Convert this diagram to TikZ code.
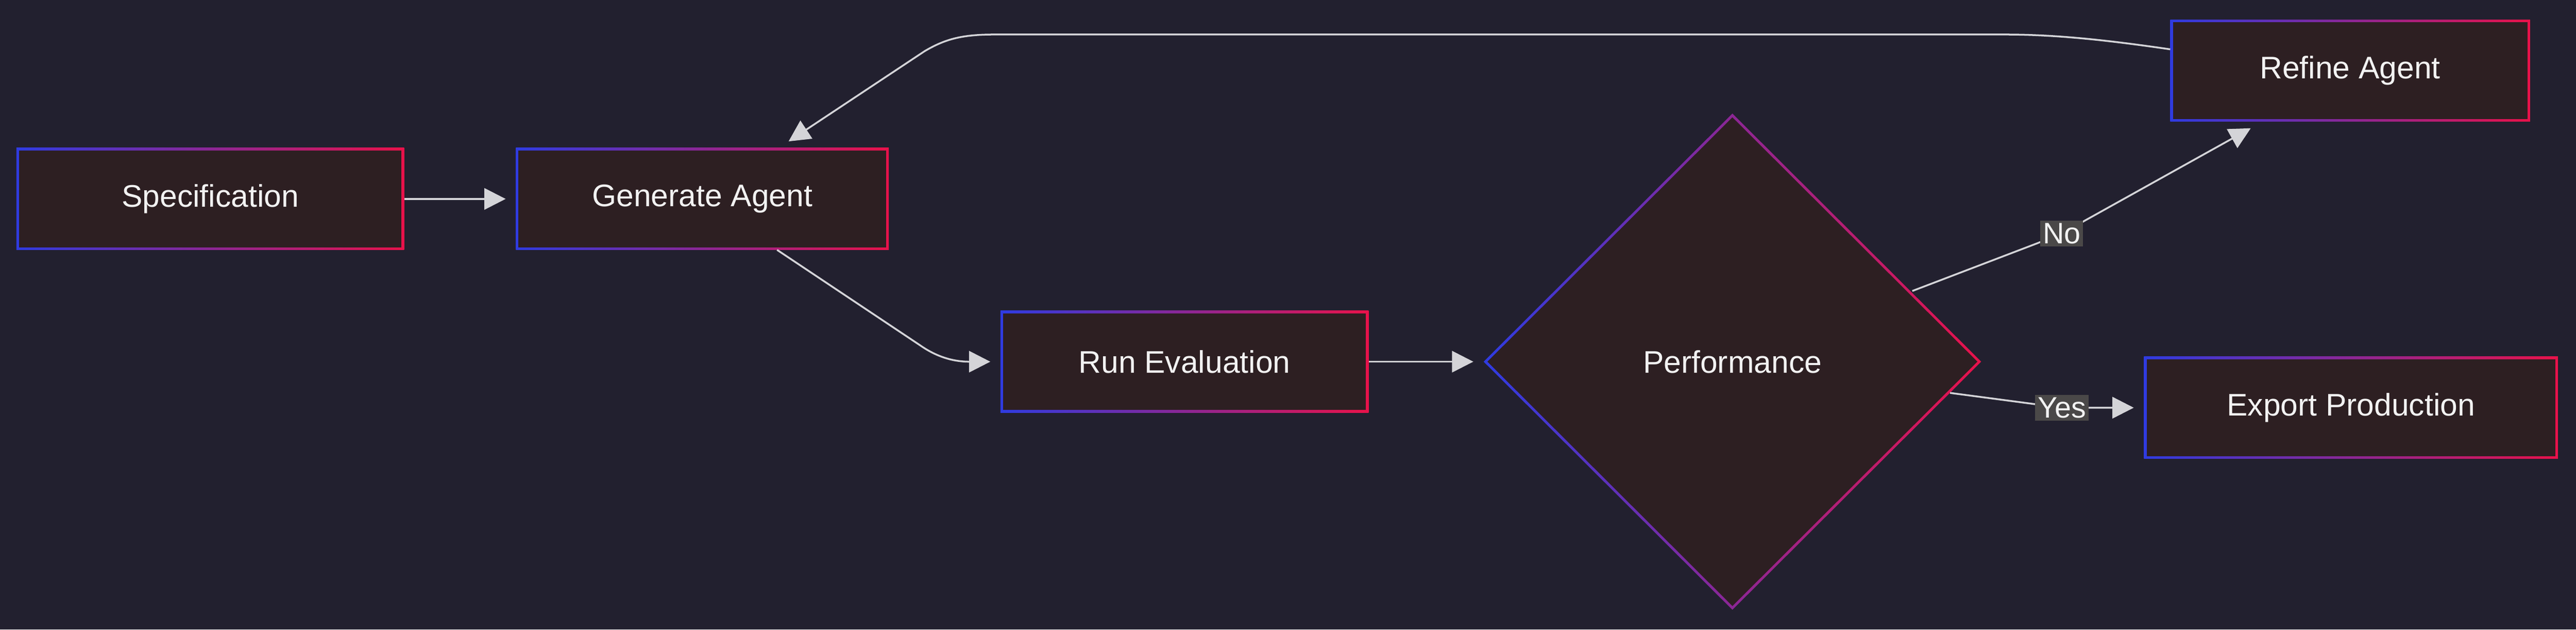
\documentclass[tikz,border=0pt]{standalone}
\usepackage{fontspec}
\setmainfont{Liberation Sans}
\usetikzlibrary{shapes.geometric,arrows.meta}
\definecolor{bg}{HTML}{22202F}
\definecolor{nf}{HTML}{2D1F22}
\definecolor{bl}{HTML}{2F3BE0}
\definecolor{rd}{HTML}{E8124A}
\definecolor{ln}{HTML}{D4D4D8}
\definecolor{lb}{HTML}{4A4848}
\begin{document}
\begin{tikzpicture}[x=1pt,y=-1pt,
  txt/.style={text=white!90!gray,font=\fontsize{19}{22}\selectfont},
  box/.style={txt,rectangle,inner sep=0pt,
    path picture={\shade[left color=bl,right color=rd] (path picture bounding box.south west) rectangle (path picture bounding box.north east);
      \fill[nf] ([shift={(1.6pt,-1.6pt)}]path picture bounding box.north west) rectangle ([shift={(-1.6pt,1.6pt)}]path picture bounding box.south east);}},
  dia/.style={txt,diamond,inner sep=0pt,minimum width=303pt,minimum height=302pt,
    path picture={\shade[left color=bl,right color=rd] (path picture bounding box.south west) rectangle (path picture bounding box.north east);
      \fill[nf] ([yshift=-2.3pt]path picture bounding box.north) -- ([xshift=-2.3pt]path picture bounding box.east) -- ([yshift=2.3pt]path picture bounding box.south) -- ([xshift=2.3pt]path picture bounding box.west) -- cycle;}},
  ar/.style={draw=ln,line width=1.1pt,-{Triangle[length=13pt,width=13pt]}},
  lab/.style={fill=lb,text=white!90!gray,inner sep=1.5pt,font=\fontsize{18}{21}\selectfont}]
\fill[bg] (0,0) rectangle (1568,383);
\node[box,minimum width=236pt,minimum height=62pt] (spec) at (128,121) {Specification};
\node[box,minimum width=227pt,minimum height=62pt] (gen) at (427.5,121) {Generate Agent};
\node[box,minimum width=224pt,minimum height=62pt] (run) at (721,220) {Run Evaluation};
\node[dia] (perf) at (1054.5,220) {Performance};
\node[box,minimum width=219pt,minimum height=62pt] (ref) at (1430.5,43) {Refine Agent};
\node[box,minimum width=252pt,minimum height=62pt] (exp) at (1431,248) {Export Production};
\coordinate (g1) at (473,152);
\coordinate (r1) at (1321,30);
\coordinate (g2) at (480,86);
\coordinate (p1) at (1164,177);
\coordinate (p2) at (1187,239);
\coordinate (nb) at (1255,142);
\coordinate (yb) at (1255,248);
\coordinate (rin) at (1370,78);
\draw[ar] (spec) -- ([xshift=-6pt]gen.west);
\draw[ar] (g1) -- (560,210) .. controls (570,217) and (580,220) .. ([xshift=-6pt]run.west);
\draw[ar] (run) -- ([xshift=-6pt]perf.west);
\draw[ar] (p1) -- (1240,148) -- (nb) -- (rin);
\node[lab] (no) at (nb) {No};
\draw[ar] (p2) -- (yb) -- ([xshift=-6pt]exp.west);
\node[lab] (yes) at (yb) {Yes};
\draw[ar] (r1) .. controls (1280,24) and (1250,21) .. (1220,21) -- (605,21) .. controls (585,21) and (575,24) .. (563,31) -- (g2);
\end{tikzpicture}
\end{document}
